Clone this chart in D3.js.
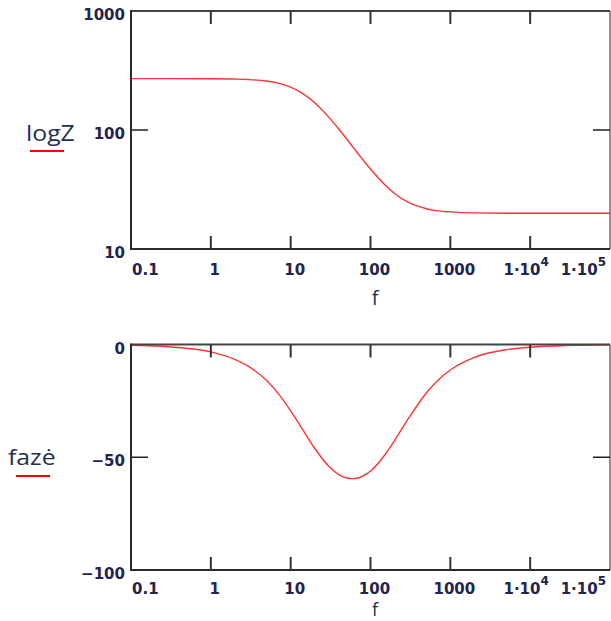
<!DOCTYPE html>
<html>
<head>
<meta charset="utf-8">
<script src="https://cdn.jsdelivr.net/npm/d3@7"></script>
<style>
    body { margin: 0; background: #fff; }
    .tick-label { font-family: "DejaVu Sans", Verdana, sans-serif; font-weight: bold; font-size: 15px; fill: #23234d; }
    .name-label { font-family: "Open Sans", sans-serif; fill: #22304f; }
</style>
</head>
<body>
<svg id="chart" width="611" height="621"></svg>
<script>
(function() {
    'use strict';

    // values
    var freq = [0.1, 0.3, 1, 2, 3, 5, 7, 10, 15, 20, 30, 40, 50, 60, 70, 80, 100,
        150, 200, 300, 500, 700, 1000, 2000, 5000, 1e4, 3e4, 1e5];
    var logZ = [270, 270, 269.5, 267.9, 265.4, 257.8, 247.5, 229.2, 197.5, 169.4, 128.3, 102, 84.5,
        72.2, 63.2, 56.5, 47, 34.9, 29.3, 24.6, 21.8, 20.9, 20.5, 20.1, 20, 20, 20, 20];
    var faze = [-0.3, -1, -3.3, -6.6, -9.8, -16, -21.8, -29.4, -39.2, -46, -54, -57.7, -59.2,
        -59.5, -59.2, -58.4, -56.1, -49.1, -42.6, -32.7, -21.5, -15.8, -11.3, -5.7, -2.3, -1.2, -0.4, -0.1];

    var xTicks = [0.1, 1, 10, 100, 1000, 1e4, 1e5];
    var xTickLabels = ["0.1", "1", "10", "100", "1000", "1\u00b710^4", "1\u00b710^5"];
    var zTicks = [10, 100, 1000];
    var zTickLabels = ["10", "100", "1000"];
    var fazeTicks = [-100, -50, 0];
    var fazeTickLabels = ["\u2212100", "\u221250", "0"];

    var svg = d3.select('#chart');

    drawPanel({
        top: 11, bottom: 249, left: 131, right: 610,
        y: d3.scaleLog().domain([10, 1000]),
        values: logZ, yTicks: zTicks, yLabels: zTickLabels,
        name: 'logZ', nameX: 26, nameY: 141, lineY: 151, lineX: [30, 64],
        labelY: 275, fY: 305, fSize: 20
    });
    drawPanel({
        top: 344.5, bottom: 570, left: 131, right: 610,
        y: d3.scaleLinear().domain([-100, 0]),
        values: faze, yTicks: fazeTicks, yLabels: fazeTickLabels,
        name: 'faz\u0117', nameX: 8, nameY: 465, lineY: 476, lineX: [16, 50],
        labelY: 594, fY: 616, fSize: 18
    });

    function drawPanel(p) {
        var x = d3.scaleLog().domain([0.1, 1e5]).range([p.left, p.right]);
        var y = p.y.range([p.bottom, p.top]);
        var g = svg.append('g');

        var clipId = 'clip' + Math.round(p.top);
        g.append('clipPath').attr('id', clipId)
            .append('rect')
            .attr('x', p.left).attr('y', p.top - 1)
            .attr('width', p.right - p.left).attr('height', p.bottom - p.top + 1);

        var line = d3.line()
            .x(function(d, i) { return x(freq[i]); })
            .y(function(d) { return y(d); })
            .curve(d3.curveMonotoneX);

        g.append('path')
            .datum(p.values)
            .attr('clip-path', 'url(#' + clipId + ')')
            .attr('fill', 'none')
            .attr('stroke', '#ff3333')
            .attr('stroke-width', 1.4)
            .attr('d', line);

        // frame
        g.append('line').attr('x1', p.left).attr('x2', p.right).attr('y1', p.top).attr('y2', p.top)
            .attr('stroke', '#444').attr('stroke-width', 2);
        g.append('line').attr('x1', p.right).attr('x2', p.right).attr('y1', p.top).attr('y2', p.bottom)
            .attr('stroke', '#555').attr('stroke-width', 1.3);
        g.append('line').attr('x1', p.left).attr('x2', p.left).attr('y1', p.top - 1).attr('y2', p.bottom + 1)
            .attr('stroke', '#2b2b2b').attr('stroke-width', 2);
        g.append('line').attr('x1', p.left - 1).attr('x2', p.right).attr('y1', p.bottom).attr('y2', p.bottom)
            .attr('stroke', '#2b2b2b').attr('stroke-width', 2);

        // inner ticks, mirrored on all sides
        var inner = xTicks.slice(1, -1);
        inner.forEach(function(v) {
            var xp = x(v);
            g.append('line').attr('x1', xp).attr('x2', xp).attr('y1', p.bottom).attr('y2', p.bottom - 13)
                .attr('stroke', '#333').attr('stroke-width', 2);
            g.append('line').attr('x1', xp).attr('x2', xp).attr('y1', p.top).attr('y2', p.top + 13)
                .attr('stroke', '#333').attr('stroke-width', 2);
        });
        p.yTicks.slice(1, -1).forEach(function(v) {
            var yp = y(v);
            g.append('line').attr('x1', p.left).attr('x2', p.left + 17).attr('y1', yp).attr('y2', yp)
                .attr('stroke', '#222').attr('stroke-width', 1.5);
            g.append('line').attr('x1', p.right).attr('x2', p.right - 17).attr('y1', yp).attr('y2', yp)
                .attr('stroke', '#222').attr('stroke-width', 1.5);
        });

        // y tick labels
        p.yTicks.forEach(function(v, i) {
            g.append('text').attr('class', 'tick-label')
                .attr('x', 125).attr('y', y(v) + 4)
                .attr('text-anchor', 'end')
                .attr('dominant-baseline', 'central')
                .text(p.yLabels[i]);
        });

        // x tick labels
        xTicks.forEach(function(v, i) {
            var parts = xTickLabels[i].split('^');
            var t = g.append('text').attr('class', 'tick-label')
                .attr('y', p.labelY)
                .attr('text-anchor', 'start');
            t.append('tspan').text(parts[0]);
            if (parts.length > 1) {
                t.append('tspan').attr('dy', -9).style('font-size', '12px').text(parts[1]);
            }
            var w = t.node().getBBox().width;
            var cx = x(v) + (parts.length > 1 ? -4 : 4);
            var lx = cx - w / 2;
            lx = Math.max(lx, p.left + 1);
            lx = Math.min(lx, 606 - w);
            t.attr('x', lx);
        });

        // axis title
        g.append('text').attr('class', 'name-label')
            .attr('x', 375).attr('y', p.fY)
            .attr('text-anchor', 'middle')
            .style('font-size', p.fSize + 'px')
            .text('f');

        // trace name with its line sample
        g.append('text').attr('class', 'name-label')
            .attr('transform', 'translate(' + p.nameX + ',' + p.nameY + ') scale(1.18,1)')
            .style('font-size', '21px')
            .text(p.name);
        g.append('line')
            .attr('x1', p.lineX[0]).attr('x2', p.lineX[1])
            .attr('y1', p.lineY).attr('y2', p.lineY)
            .attr('stroke', '#ff0000').attr('stroke-width', 2);
    }
})();
</script>
</body>
</html>
